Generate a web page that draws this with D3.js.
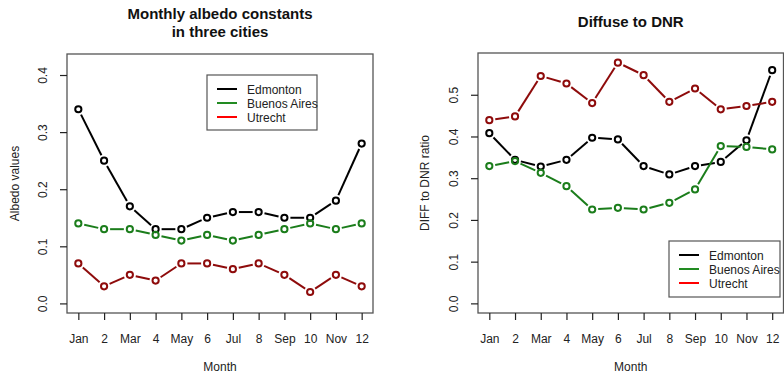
<!DOCTYPE html>
<html>
<head>
<meta charset="utf-8">
<script src="https://cdn.jsdelivr.net/npm/d3@7"></script>
<style>
  body { margin: 0; background: #fff; }
  svg { font-family: "Liberation Sans", Arial, sans-serif; }
</style>
</head>
<body>
<script>
const months = [1, 2, 3, 4, 5, 6, 7, 8, 9, 10, 11, 12];
const monthLabels = ["Jan", "2", "Mar", "4", "May", "6", "Jul", "8", "Sep", "10", "Nov", "12"];
const cities = ["Edmonton", "Buenos Aires", "Utrecht"];

// albedo constants
const albedoEdmonton = [0.34, 0.25, 0.17, 0.13, 0.13, 0.15, 0.16, 0.16, 0.15, 0.15, 0.18, 0.28];
const albedoBuenosAires = [0.14, 0.13, 0.13, 0.12, 0.11, 0.12, 0.11, 0.12, 0.13, 0.14, 0.13, 0.14];
const albedoUtrecht = [0.07, 0.03, 0.05, 0.04, 0.07, 0.07, 0.06, 0.07, 0.05, 0.02, 0.05, 0.03];

// diffuse to DNR ratio
const diffEdmonton = [0.408, 0.344, 0.328, 0.344, 0.397, 0.393, 0.329, 0.309, 0.329, 0.339, 0.391, 0.559];
const diffBuenosAires = [0.329, 0.341, 0.313, 0.281, 0.225, 0.229, 0.225, 0.241, 0.273, 0.377, 0.375, 0.369];
const diffUtrecht = [0.439, 0.448, 0.545, 0.527, 0.480, 0.577, 0.547, 0.483, 0.515, 0.465, 0.473, 0.483];

const albedoTicks = [0, 0.1, 0.2, 0.3, 0.4];
const diffTicks = [0, 0.1, 0.2, 0.3, 0.4, 0.5];

const lineColors = ["#000000", "#1b7d1b", "#8e0b0b"];
const legendColors = ["#000000", "#228B22", "#FF0000"];

const svg = d3.select("body").append("svg")
  .attr("width", 784)
  .attr("height", 373);

function drawPanel(opts) {
  let g = svg.append("g");
  let b = opts.box;

  // R style: 4% extension on each side
  let xPad = (12 - 1) * 0.04;
  let x = d3.scaleLinear().domain([1 - xPad, 12 + xPad]).range([b.left, b.right]);
  let yPad = (opts.ylim[1] - opts.ylim[0]) * 0.04;
  let y = d3.scaleLinear().domain([opts.ylim[0] - yPad, opts.ylim[1] + yPad]).range([b.bottom, b.top]);

  let gap = 6; // type="b" leaves a gap around each point

  opts.series.forEach((vals, i) => {
    let pts = months.map((m, j) => [x(m), y(vals[j])]);
    let segs = d3.pairs(pts).map(([p, q]) => {
      let dx = q[0] - p[0], dy = q[1] - p[1];
      let len = Math.sqrt(dx * dx + dy * dy);
      if (len <= 2 * gap) return null;
      let ux = dx / len, uy = dy / len;
      return [p[0] + ux * gap, p[1] + uy * gap, q[0] - ux * gap, q[1] - uy * gap];
    }).filter(s => s);

    g.selectAll(null)
      .data(segs)
      .join("line")
      .attr("x1", d => d[0]).attr("y1", d => d[1])
      .attr("x2", d => d[2]).attr("y2", d => d[3])
      .attr("stroke", lineColors[i])
      .attr("stroke-width", 2);

    g.selectAll(null)
      .data(pts)
      .join("circle")
      .attr("cx", d => d[0])
      .attr("cy", d => d[1])
      .attr("r", 3.1)
      .attr("fill", "none")
      .attr("stroke", lineColors[i])
      .attr("stroke-width", 2);
  });

  // box
  g.append("rect")
    .attr("x", b.left).attr("y", b.top)
    .attr("width", b.right - b.left).attr("height", b.bottom - b.top)
    .attr("fill", "none")
    .attr("stroke", "#555")
    .attr("stroke-width", 1.3);

  // x axis
  let xAxis = d3.axisBottom(x)
    .tickValues(months)
    .tickFormat((d, i) => monthLabels[i])
    .tickSize(7)
    .tickPadding(14);
  let gx = g.append("g").attr("transform", `translate(0,${b.bottom})`).call(xAxis);
  gx.select(".domain").remove();
  gx.selectAll("line").attr("stroke", "#222").attr("stroke-width", 1.2);
  gx.selectAll("text").attr("font-size", 12).attr("fill", "#222").attr("font-family", null);

  // y axis
  let yAxis = d3.axisLeft(y)
    .tickValues(opts.yticks)
    .tickFormat(d3.format(".1f"))
    .tickSize(7);
  let gy = g.append("g").attr("transform", `translate(${b.left},0)`).call(yAxis);
  gy.select(".domain").remove();
  gy.selectAll("line").attr("stroke", "#222").attr("stroke-width", 1.2);
  gy.selectAll("text")
    .attr("font-size", 12).attr("fill", "#222").attr("font-family", null)
    .attr("x", null).attr("dy", null)
    .attr("text-anchor", "middle")
    .attr("transform", "translate(-20,0) rotate(-90)");

  // titles
  opts.title.forEach((t, i) => {
    svg.append("text")
      .attr("x", (b.left + b.right) / 2)
      .attr("y", opts.titleY + i * 18)
      .attr("text-anchor", "middle")
      .attr("font-size", 15)
      .attr("font-weight", "bold")
      .attr("fill", "#111")
      .text(t);
  });

  svg.append("text")
    .attr("x", (b.left + b.right) / 2)
    .attr("y", 371)
    .attr("text-anchor", "middle")
    .attr("font-size", 12)
    .attr("fill", "#222")
    .text("Month");

  svg.append("text")
    .attr("transform", `translate(${opts.ylabX},${(b.top + b.bottom) / 2}) rotate(-90)`)
    .attr("text-anchor", "middle")
    .attr("font-size", 12)
    .attr("fill", "#222")
    .text(opts.ylab);

  // legend
  let L = opts.legend;
  let lg = svg.append("g").attr("transform", `translate(${L.x},${L.y})`);
  lg.append("rect")
    .attr("width", L.w).attr("height", L.h)
    .attr("fill", "none")
    .attr("stroke", "#555")
    .attr("stroke-width", 1.2);
  cities.forEach((c, i) => {
    let yy = 14 + i * 14;
    lg.append("line")
      .attr("x1", 10).attr("x2", 30)
      .attr("y1", yy).attr("y2", yy)
      .attr("stroke", legendColors[i])
      .attr("stroke-width", 2);
    lg.append("text")
      .attr("x", 40).attr("y", yy + 4.5)
      .attr("font-size", 12)
      .attr("fill", "#222")
      .text(c);
  });
}

drawPanel({
  box: { left: 67, right: 373, top: 54, bottom: 313 },
  ylim: [0, 0.42],
  yticks: albedoTicks,
  series: [albedoEdmonton, albedoBuenosAires, albedoUtrecht],
  title: ["Monthly albedo constants", "in three cities"],
  titleY: 19,
  ylab: "Albedo values",
  ylabX: 19,
  legend: { x: 207, y: 75, w: 110, h: 55 }
});

drawPanel({
  box: { left: 478, right: 783.5, top: 53, bottom: 313 },
  ylim: [0, 0.577],
  yticks: diffTicks,
  series: [diffEdmonton, diffBuenosAires, diffUtrecht],
  title: ["Diffuse to DNR"],
  titleY: 27,
  ylab: "DIFF to DNR ratio",
  ylabX: 429,
  legend: { x: 669, y: 241, w: 111, h: 56 }
});
</script>
</body>
</html>
